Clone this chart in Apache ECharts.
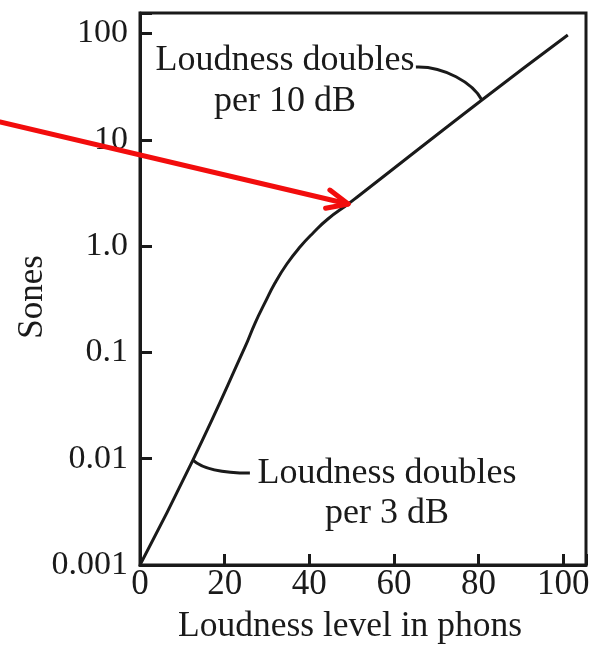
<!DOCTYPE html>
<html>
<head>
<meta charset="utf-8">
<script src="https://cdn.jsdelivr.net/npm/echarts@6/dist/echarts.min.js"></script>
<style>
  html, body { margin: 0; padding: 0; background: #fff; }
  #chart { width: 592px; height: 649px; }
</style>
</head>
<body>
<div id="chart"></div>
<script>
// Loudness level (phons) against loudness (sones), sones on a log scale
const phons = [0, 12.5, 24.8, 27.2, 29.5, 31.9, 34.7, 37.8, 40.9, 44.4, 49.2, 51.5, 80.8, 101.1];
const sones = [0.001, 0.0097, 0.112, 0.189, 0.292, 0.450, 0.679, 0.98, 1.33, 1.80, 2.49, 2.93, 23.7, 96.8];

const xTicks = [0, 20, 40, 60, 80, 100];
const yTickExps = [-3, -2, -1, 0, 1, 2];
const yTickLabels = ['0.001', '0.01', '0.1', '1.0', '10', '100'];

// annotation anchors on the curve (phons, sones)
const slowAnchor = [80.8, 23.7];   // "per 10 dB" leader
const fastAnchor = [12.5, 0.0097]; // "per 3 dB" leader
const arrowTip = [49.2, 2.49];     // red arrow points at the knee

const SERIF = "'Liberation Serif', 'DejaVu Serif', 'Times New Roman', serif";
const INK = '#1a1a1a';

const chart = echarts.init(document.getElementById('chart'), null, { renderer: 'canvas' });

const points = phons.map((p, i) => [p, Math.log10(sones[i])]);

chart.setOption({
  animation: false,
  backgroundColor: '#fff',
  grid: {
    left: 140, top: 13, right: 6, bottom: 84,
    containLabel: false, outerBoundsMode: 'none',
    show: true, borderColor: INK, borderWidth: 3, backgroundColor: 'transparent'
  },
  xAxis: {
    type: 'value', min: 0, max: 105.4, interval: 20,
    axisLine: { show: true, onZero: false, lineStyle: { color: INK, width: 3 } },
    axisTick: { show: true, inside: true, length: 11, lineStyle: { color: INK, width: 3 } },
    splitLine: { show: false },
    axisLabel: {
      margin: 2, color: INK, fontFamily: SERIF, fontSize: 35,
      formatter: v => (xTicks.indexOf(v) >= 0 ? String(v) : '')
    },
    name: 'Loudness level in phons',
    nameLocation: 'middle', nameGap: 44, nameMoveOverlap: false,
    nameTextStyle: { color: INK, fontFamily: SERIF, fontSize: 35.5, padding: [0, 26, 0, 0] }
  },
  yAxis: {
    type: 'value', min: -3, max: 2.193, interval: 1,
    axisLine: { show: true, onZero: false, lineStyle: { color: INK, width: 3 } },
    axisTick: { show: true, inside: true, length: 12, lineStyle: { color: INK, width: 3 } },
    splitLine: { show: false },
    axisLabel: {
      margin: 12, color: INK, fontFamily: SERIF, fontSize: 34,
      formatter: v => {
        const i = yTickExps.indexOf(v);
        return i >= 0 ? yTickLabels[i] : '';
      }
    },
    name: 'Sones',
    nameLocation: 'middle', nameGap: 90, nameRotate: 90, nameMoveOverlap: false,
    nameTextStyle: { color: INK, fontFamily: SERIF, fontSize: 35, padding: [0, 16, 0, 0] }
  },
  series: [{
    type: 'line',
    data: points,
    symbol: 'none',
    smooth: 0.5,
    lineStyle: { color: INK, width: 3, join: 'round' },
    z: 3
  }]
});

// annotation graphics positioned from data coordinates
function px(pt) {
  return chart.convertToPixel({ gridIndex: 0 }, [pt[0], Math.log10(pt[1])]);
}

const slow = px(slowAnchor);
const fast = px(fastAnchor);
const tip = px(arrowTip);

// red arrow: shaft runs from the left page edge to the knee
const tail = [0, 122];
const dx = tail[0] - tip[0], dy = tail[1] - tip[1];
const len = Math.hypot(dx, dy);
const ux = dx / len, uy = dy / len;
const headLen = 23, headAng = 24 * Math.PI / 180;
function rot(x, y, a) { return [x * Math.cos(a) - y * Math.sin(a), x * Math.sin(a) + y * Math.cos(a)]; }
const h1 = rot(ux, uy, headAng), h2 = rot(ux, uy, -headAng);
const RED = '#f20d0d';
const redStyle = { stroke: RED, lineWidth: 5, lineCap: 'round', lineJoin: 'round', fill: null };

chart.setOption({
  graphic: [
    {
      type: 'text', z: 10,
      x: 285, y: 40,
      style: {
        text: 'Loudness doubles\nper 10 dB', fill: INK, font: '36px ' + SERIF,
        align: 'center', verticalAlign: 'top', lineHeight: 41
      }
    },
    {
      type: 'text', z: 10,
      x: 387, y: 454,
      style: {
        text: 'Loudness doubles\nper 3 dB', fill: INK, font: '36px ' + SERIF,
        align: 'center', verticalAlign: 'top', lineHeight: 40
      }
    },
    {
      type: 'bezierCurve', z: 10,
      shape: {
        x1: slow[0] - 66, y1: slow[1] - 33,
        cpx1: slow[0] - 38, cpy1: slow[1] - 34,
        cpx2: slow[0] - 9, cpy2: slow[1] - 17,
        x2: slow[0], y2: slow[1]
      },
      style: { stroke: INK, lineWidth: 3, fill: null }
    },
    {
      type: 'bezierCurve', z: 10,
      shape: {
        x1: fast[0], y1: fast[1],
        cpx1: fast[0] + 10, cpy1: fast[1] + 9,
        cpx2: fast[0] + 27, cpy2: fast[1] + 13,
        x2: fast[0] + 57, y2: fast[1] + 13
      },
      style: { stroke: INK, lineWidth: 3, fill: null }
    },
    {
      type: 'polyline', z: 20,
      shape: { points: [tail, tip] },
      style: redStyle
    },
    {
      type: 'polyline', z: 20,
      shape: { points: [[tip[0] + h1[0] * headLen, tip[1] + h1[1] * headLen], tip, [tip[0] + h2[0] * headLen, tip[1] + h2[1] * headLen]] },
      style: redStyle
    }
  ]
});
</script>
</body>
</html>
